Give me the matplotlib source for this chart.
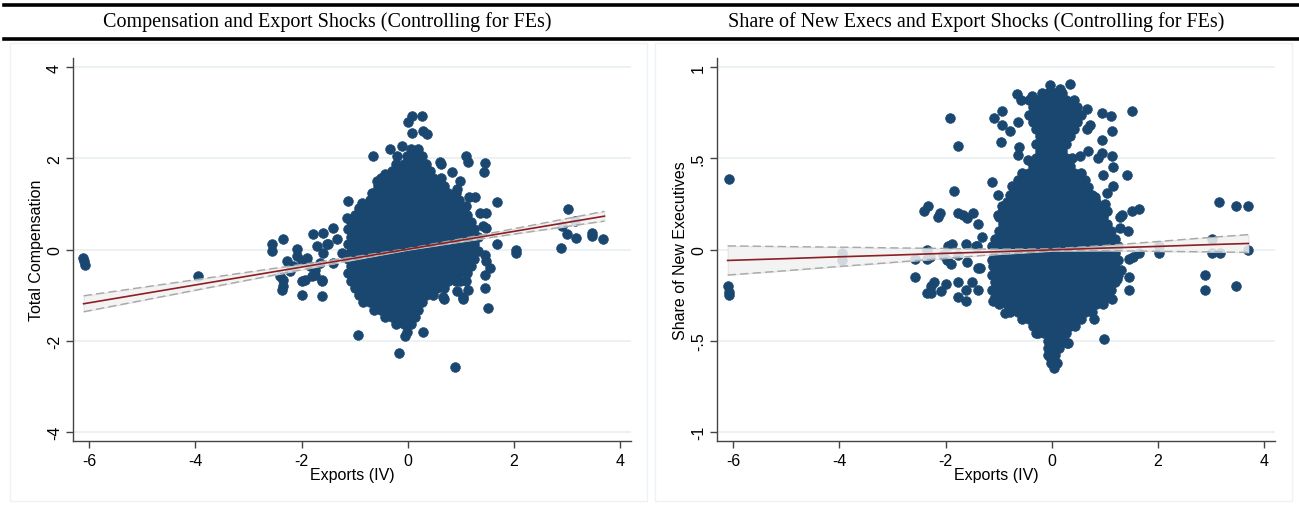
import matplotlib
matplotlib.use('Agg')
import matplotlib.pyplot as plt
from matplotlib.lines import Line2D
from matplotlib.patches import Rectangle
import numpy as np

plt.rcParams['font.family'] = ['Liberation Sans', 'DejaVu Sans']

NAVY = '#1a476f'
FIT_RED = '#8c1f24'
CI_GRAY = '#a8a8a8'
GRID = '#e9f0f2'

TITLES = ['Compensation and Export Shocks (Controlling for FEs)',
          'Share of New Execs and Export Shocks (Controlling for FEs)']
YLABELS = ['Total Compensation', 'Share of New Executives']
XLABEL = 'Exports (IV)'

X_TICKS = [-6, -4, -2, 0, 2, 4]
COMP_YTICKS = [-4, -2, 0, 2, 4]
COMP_YTICKLABELS = ['-4', '-2', '0', '2', '4']
SHARE_YTICKS = [-1, -0.5, 0, 0.5, 1]
SHARE_YTICKLABELS = ['-1', '-.5', '0', '.5', '1']

# columns at which the dense middle of each cloud is sampled (two staggered sets)
cols_a = [-1.13, -0.99, -0.85, -0.71, -0.57, -0.43, -0.29, -0.15, -0.01,
          0.13, 0.27, 0.41, 0.55, 0.69, 0.83, 0.97, 1.11, 1.25]
cols_b = [-1.06, -0.92, -0.78, -0.64, -0.50, -0.36, -0.22, -0.08, 0.06,
          0.20, 0.34, 0.48, 0.62, 0.76, 0.90, 1.04, 1.18, 1.32]

# dense core of the compensation cloud: (y, column set, x from, x to)
comp_core_rows = [
    (2.20, 'b', 0.06, 0.20), (2.04, 'a', -0.01, 0.27),
    (1.88, 'b', -0.22, 0.34), (1.72, 'a', -0.29, 0.41),
    (1.56, 'b', -0.50, 0.62), (1.40, 'a', -0.57, 0.69),
    (1.24, 'b', -0.64, 0.90), (1.08, 'a', -0.71, 0.97),
    (0.92, 'b', -0.92, 1.04), (0.76, 'a', -0.99, 1.11),
    (0.60, 'b', -1.06, 1.18), (0.44, 'a', -1.13, 1.25),
    (0.28, 'b', -1.06, 1.32), (0.12, 'a', -1.13, 1.25),
    (-0.04, 'b', -1.06, 1.32), (-0.20, 'a', -1.13, 1.25),
    (-0.36, 'b', -1.06, 1.18), (-0.52, 'a', -1.13, 1.11),
    (-0.68, 'b', -1.06, 0.90), (-0.84, 'a', -0.99, 0.69),
    (-1.00, 'b', -0.92, 0.48), (-1.16, 'a', -0.85, 0.27),
    (-1.32, 'b', -0.64, 0.20), (-1.48, 'a', -0.43, 0.13),
    (-1.64, 'b', -0.22, 0.06), (-1.80, 'a', -0.01, -0.01),
]

comp_out_x = [-6.12, -6.10, -6.08, -3.94,
              -2.55, -2.55, -2.35, -2.27, -2.08, -2.08, -1.99, -1.90, -1.78, -1.60,
              -1.71, -1.60, -1.52, -2.35, -2.35, -2.37, -2.40, -2.22, -2.16, -1.99,
              -1.99, -1.93, -1.80, -1.75, -1.62, -1.62, -1.84, -1.65,
              -1.41, -1.34, -1.50, -1.24, -1.41, -1.75, -1.62, -1.13, -0.86, -1.15,
              -0.90, -0.68, -0.58, -0.43, -0.34, -0.66, -0.21, -0.11,
              0.00, 0.08, 0.26, 0.08, 0.28, 0.36,
              0.60, 0.62, 1.10, 1.13, 1.45, 1.43, 0.83, 0.98, 0.92, 0.60, 1.26, 1.16,
              1.67, 1.35, 1.48, 1.10, 1.41, 1.48, 1.67, 1.45, 1.48, 1.54, 1.45, 1.45,
              1.50, 1.10, 1.13, 1.03, 0.92, 0.68, 0.98,
              3.02, 2.91, 3.14, 3.00, 3.17, 3.46, 3.46, 3.68, 2.89, 2.03, 2.03,
              -0.94, -0.17, 0.88, 0.28, -0.06, 0.66, 1.03]
comp_out_y = [-0.18, -0.26, -0.34, -0.59,
              0.11, -0.04, 0.24, -0.26, 0.02, -0.15, -0.26, -0.18, 0.35, 0.37,
              0.07, -0.07, 0.11, -0.66, -0.81, -0.88, -0.59, -0.48, -0.37, -0.99,
              -0.70, -0.66, -0.59, -0.44, -0.66, -1.03, -0.37, -0.29,
              0.48, 0.22, 0.11, -0.07, -0.29, -0.55, -0.70, 1.06, 1.03, 0.70,
              0.66, 1.25, 1.50, 1.65, 2.20, 2.04, 2.04, 2.26,
              2.79, 2.92, 2.92, 2.55, 2.59, 2.53,
              1.93, 1.88, 2.04, 1.91, 1.89, 1.71, 1.71, 1.50, 1.32, 1.38, 1.16, 1.16,
              1.05, 0.81, 0.81, 0.95, 0.51, 0.48, 0.13, -0.11, -0.26, -0.40, -0.55, -0.84,
              -1.28, -0.70, -0.88, -1.08, -0.92, -1.08, -0.70,
              0.88, 0.51, 0.62, 0.33, 0.26, 0.37, 0.29, 0.22, 0.04, 0.00, -0.07,
              -1.87, -2.27, -2.57, -1.80, -1.89, -1.05, -1.05]

# dense core of the new-executive-share cloud
share_core_rows = [
    (0.86, 'b', -0.08, 0.20), (0.82, 'a', -0.43, 0.41),
    (0.78, 'b', -0.36, 0.48), (0.74, 'a', -0.43, 0.55),
    (0.70, 'b', -0.36, 0.48), (0.66, 'a', -0.29, 0.41),
    (0.62, 'b', -0.22, 0.34), (0.58, 'a', -0.29, 0.27),
    (0.54, 'b', -0.22, 0.20), (0.50, 'a', -0.29, 0.27),
    (0.46, 'b', -0.36, 0.34), (0.42, 'a', -0.57, 0.55),
    (0.38, 'b', -0.64, 0.62), (0.34, 'a', -0.71, 0.69),
    (0.30, 'b', -0.78, 0.76), (0.26, 'a', -0.85, 0.83),
    (0.22, 'b', -0.92, 0.90), (0.18, 'a', -0.99, 0.97),
    (0.14, 'b', -0.92, 1.04), (0.10, 'a', -0.99, 1.11),
    (0.06, 'b', -1.06, 1.18), (0.02, 'a', -1.13, 1.25),
    (-0.02, 'b', -1.06, 1.18), (-0.06, 'a', -1.13, 1.25),
    (-0.10, 'b', -1.06, 1.18), (-0.14, 'a', -1.13, 1.25),
    (-0.18, 'b', -1.06, 1.18), (-0.22, 'a', -1.13, 1.11),
    (-0.26, 'b', -1.06, 1.04), (-0.30, 'a', -0.99, 0.97),
    (-0.34, 'b', -0.78, 0.76), (-0.38, 'a', -0.57, 0.55),
    (-0.42, 'b', -0.36, 0.34), (-0.46, 'a', -0.29, 0.27),
    (-0.50, 'b', -0.08, 0.20), (-0.54, 'a', -0.01, 0.13),
    (-0.58, 'b', -0.08, 0.06), (-0.62, 'a', -0.01, -0.01),
]

share_out_x = [-6.08, -6.10, -6.08, -6.07, -3.94, -3.94,
               -2.57, -2.57, -2.35, -2.35, -2.29, -2.40, -2.33, -2.14, -2.10, -2.35,
               -2.27, -2.22, -2.27, -2.08, -2.00,
               -1.92, -1.77, -1.84, -1.77, -1.67, -1.60, -1.48, -1.39, -1.95, -1.88,
               -1.62, -1.43, -2.05, -1.97, -1.90, -1.77, -1.60, -1.39, -1.77, -1.50,
               -1.77, -1.62, -1.62, -1.39,
               -1.13, -1.01, -0.94, -1.01, -1.31, -1.41, -1.35, -1.11, -1.11, -0.88,
               -0.94, -1.09, -0.94, -0.79, -0.96, -0.66, -0.58, -0.64, -0.64, -0.45,
               -0.62, -0.75, -0.60, -0.51,
               0.34, -0.04, 0.15, -0.19, -0.38, 0.66, 0.94, 1.11, 1.50, 0.66, 0.71,
               1.13, 0.94, 0.69, 0.86, 0.94, 1.13, 1.15, 1.41, 0.96, 0.53, 0.38, 1.15,
               1.03, 1.00, 0.81, 0.85, 1.03, 1.28, 1.33, 1.50, 1.65, 1.43, 1.28,
               1.65, 1.46, 1.52, 1.31, 1.46, 1.46, 1.22, 1.13, 0.79, 0.43, 0.30, 0.98,
               0.28,
               3.14, 3.46, 3.70, 2.01, 2.01, 3.02, 3.02, 3.16, 3.70, 2.89, 2.89, 3.46,
               0.04, -0.04, 0.09, -0.08, -0.26, -0.17]
share_out_y = [0.385, -0.20, -0.235, -0.25, -0.02, -0.06,
               -0.05, -0.15, 0.00, -0.05, -0.04, 0.21, 0.24, 0.18, 0.20, -0.24,
               -0.24, -0.18, -0.20, -0.23, -0.19,
               0.72, 0.57, 0.32, 0.20, 0.19, 0.17, 0.20, 0.14, 0.02, 0.03,
               0.03, 0.02, -0.03, -0.06, -0.08, -0.03, -0.07, -0.10, -0.18, -0.18,
               -0.26, -0.28, -0.22, -0.22,
               0.37, 0.30, 0.24, 0.19, 0.07, 0.02, -0.10, -0.09, -0.28, -0.35,
               0.76, 0.72, 0.68, 0.65, 0.59, 0.85, 0.82, 0.70, 0.52, 0.49,
               0.56, 0.35, 0.37, 0.29,
               0.91, 0.90, 0.88, 0.86, 0.84, 0.77, 0.75, 0.73, 0.76, 0.66, 0.68,
               0.65, 0.60, 0.54, 0.50, 0.53, 0.51, 0.45, 0.41, 0.41, 0.51, 0.50, 0.35,
               0.31, 0.25, 0.29, 0.22, 0.21, 0.18, 0.19, 0.21, 0.22, 0.10, 0.12,
               -0.02, -0.05, -0.04, -0.11, -0.15, -0.22, -0.16, -0.27, -0.38, -0.42, -0.51, -0.49,
               -0.51,
               0.26, 0.24, 0.24, 0.02, -0.02, 0.055, -0.02, -0.02, 0.00, -0.14, -0.22, -0.20,
               -0.65, -0.59, -0.62, -0.54, -0.46, -0.42]

# linear fit with 95% band, read at these x positions
fit_x = [-6.1, -5, -4, -3, -2, -1, 0, 1, 2, 3, 3.7]
comp_fit = [-1.190, -0.974, -0.778, -0.582, -0.386, -0.190, 0.006, 0.202, 0.398, 0.594, 0.731]
comp_lo = [-1.365, -1.118, -0.893, -0.669, -0.445, -0.222, -0.008, 0.170, 0.339, 0.507, 0.624]
comp_hi = [-1.015, -0.830, -0.663, -0.495, -0.327, -0.158, 0.020, 0.234, 0.457, 0.681, 0.838]
share_fit = [-0.060, -0.050, -0.040, -0.031, -0.021, -0.012, -0.002, 0.008, 0.017, 0.027, 0.033]
share_lo = [-0.140, -0.116, -0.093, -0.071, -0.048, -0.026, -0.008, -0.006, -0.010, -0.013, -0.016]
share_hi = [0.020, 0.016, 0.013, 0.009, 0.006, 0.002, 0.004, 0.022, 0.044, 0.067, 0.082]


def core_points(rows):
    xs, ys = [], []
    for y, which, lo, hi in rows:
        cols = cols_a if which == 'a' else cols_b
        for x in cols:
            if lo - 1e-6 <= x <= hi + 1e-6:
                xs.append(x)
                ys.append(y)
    return xs, ys


def draw_panel(ax, core_rows, out_x, out_y, fit, lo, hi, yticks, yticklabels, ylim, ylabel):
    cx, cy = core_points(core_rows)
    ax.scatter(cx + out_x, cy + out_y, s=50, color=NAVY, edgecolors=NAVY,
               linewidths=0.4, zorder=2)

    ax.fill_between(fit_x, lo, hi, facecolor='#f2f2f2', alpha=0.85,
                    edgecolor='#d8d8d8', linewidth=0.6, zorder=3)
    ax.plot(fit_x, lo, color=CI_GRAY, lw=1.0, ls=(0, (6, 3)), zorder=4)
    ax.plot(fit_x, hi, color=CI_GRAY, lw=1.0, ls=(0, (6, 3)), zorder=4)
    ax.plot(fit_x, fit, color=FIT_RED, lw=1.2, zorder=5)

    ax.set_xlim(-6.3, 4.2)
    ax.set_ylim(*ylim)
    ax.set_xticks(X_TICKS)
    ax.set_xticklabels([str(t) for t in X_TICKS])
    ax.set_yticks(yticks)
    ax.set_yticklabels(yticklabels, rotation=90, va='center')
    ax.tick_params(axis='both', labelsize=11.5, length=5, width=1, color='#444444')
    ax.tick_params(axis='x', pad=4)
    ax.tick_params(axis='y', pad=3)
    ax.yaxis.grid(True, color=GRID, lw=1.2)
    ax.set_axisbelow(True)
    for side in ['top', 'right']:
        ax.spines[side].set_visible(False)
    for side in ['left', 'bottom']:
        ax.spines[side].set_color('#444444')
        ax.spines[side].set_linewidth(1.0)
    ax.set_xlabel(XLABEL, fontsize=11.5, labelpad=-1)
    ax.set_ylabel(ylabel, fontsize=11.5, labelpad=2)


fig = plt.figure(figsize=(12.99, 5.06), dpi=100)

# light panel frames
for x0 in [10, 655]:
    fig.add_artist(Rectangle((x0 / 1299, 4 / 506), 637 / 1299, 458 / 506,
                             transform=fig.transFigure, fill=False,
                             edgecolor='#edf2f5', linewidth=1.0))

# title rules
for yy in [1 - 6 / 506, 1 - 40 / 506]:
    fig.add_artist(Line2D([4 / 1299, 1.0], [yy, yy], transform=fig.transFigure,
                          color='black', lw=2.6))

fig.text(327 / 1299, 1 - 22 / 506, TITLES[0], ha='center', va='center',
         fontsize=14.5, family='Liberation Serif')
fig.text(976 / 1299, 1 - 22 / 506, TITLES[1], ha='center', va='center',
         fontsize=14.5, family='Liberation Serif')

ax1 = fig.add_axes([73 / 1299, 64 / 506, 558 / 1299, 383 / 506])
draw_panel(ax1, comp_core_rows, comp_out_x, comp_out_y, comp_fit, comp_lo, comp_hi,
           COMP_YTICKS, COMP_YTICKLABELS, (-4.2, 4.2), YLABELS[0])

ax2 = fig.add_axes([717 / 1299, 64 / 506, 558 / 1299, 383 / 506])
draw_panel(ax2, share_core_rows, share_out_x, share_out_y, share_fit, share_lo, share_hi,
           SHARE_YTICKS, SHARE_YTICKLABELS, (-1.05, 1.05), YLABELS[1])

fig.savefig('out.png', dpi=100)
